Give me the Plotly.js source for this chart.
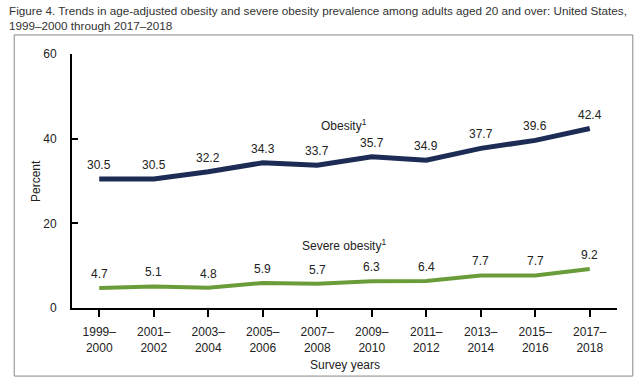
<!DOCTYPE html>
<html>
<head>
<meta charset="utf-8">
<script src="https://cdn.plot.ly/plotly-3.0.1.min.js"></script>
<style>html,body{margin:0;padding:0;background:#fff;}#chart{width:640px;height:381px;}</style>
</head>
<body>
<div id="chart"></div>
<script>
const categories = ["1999–<br>2000","2001–<br>2002","2003–<br>2004","2005–<br>2006","2007–<br>2008","2009–<br>2010","2011–<br>2012","2013–<br>2014","2015–<br>2016","2017–<br>2018"];
const obesity = [30.5, 30.5, 32.2, 34.3, 33.7, 35.7, 34.9, 37.7, 39.6, 42.4];
const severeObesity = [4.7, 5.1, 4.8, 5.9, 5.7, 6.3, 6.4, 7.7, 7.7, 9.2];
const seriesNames = ["Obesity<sup>1</sup>", "Severe obesity<sup>1</sup>"];
const yTicks = [0, 20, 40, 60];
const titleText = "Figure 4. Trends in age-adjusted obesity and severe obesity prevalence among adults aged 20 and over: United States,<br>1999–2000 through 2017–2018";
const xTitle = "Survey years";
const yTitle = "Percent";

const navy = "#1c2c55";
const green = "#6a9d3a";
const font = "Liberation Sans, Arial, sans-serif";

const traces = [
  {x: categories, y: obesity, type: "scatter", mode: "lines", line: {color: navy, width: 5}, hoverinfo: "skip"},
  {x: categories, y: severeObesity, type: "scatter", mode: "lines", line: {color: green, width: 4}, hoverinfo: "skip"}
];

const annotations = [];
[obesity, severeObesity].forEach(series => {
  series.forEach((v, i) => {
    annotations.push({x: categories[i], y: v, text: v.toFixed(1), showarrow: false, yshift: 14,
      font: {family: font, size: 12, color: "#222"}});
  });
});
annotations.push({x: 4.49, y: 43.2, xref: "x", yref: "y", text: seriesNames[0], showarrow: false,
  font: {family: font, size: 12, color: "#222"}});
annotations.push({x: 4.49, y: 14.9, xref: "x", yref: "y", text: seriesNames[1], showarrow: false,
  font: {family: font, size: 12, color: "#222"}});
annotations.push({x: -0.119, y: 1.205, xref: "paper", yref: "paper", xanchor: "left", yanchor: "top", align: "left",
  text: titleText, showarrow: false, font: {family: font, size: 11.7, color: "#333"}});
annotations.push({x: 0.5, y: -0.224, xref: "paper", yref: "paper", xanchor: "center", yanchor: "middle",
  text: xTitle, showarrow: false, font: {family: font, size: 12, color: "#222"}});
annotations.push({x: -0.066, y: 0.5, xref: "paper", yref: "paper", xanchor: "center", yanchor: "middle", textangle: -90,
  text: yTitle, showarrow: false, font: {family: font, size: 12, color: "#222"}});

const layout = {
  width: 640, height: 381,
  margin: {l: 72, r: 23, t: 54, b: 73},
  paper_bgcolor: "#fff", plot_bgcolor: "#fff",
  showlegend: false,
  font: {family: font, size: 12, color: "#222"},
  xaxis: {type: "category", range: [-0.5, 9.5], showgrid: false, zeroline: false,
    showline: true, linecolor: "#000", linewidth: 2, ticks: "outside", ticklen: 7, tickwidth: 2, tickcolor: "#000",
    tickfont: {family: font, size: 12, color: "#222"}, ticklabelstandoff: 5},
  yaxis: {range: [0, 60], tickvals: yTicks, showgrid: false, zeroline: false,
    showline: true, linecolor: "#000", linewidth: 2, ticks: "inside", ticklen: 6, tickwidth: 2, tickcolor: "#000",
    tickfont: {family: font, size: 12, color: "#222"}, ticklabelstandoff: 11},
  annotations: annotations,
  shapes: [{type: "rect", xref: "paper", yref: "paper", x0: -0.106, x1: 1.029, y0: -0.268, y1: 1.075,
    line: {color: "#888", width: 1}, fillcolor: "rgba(0,0,0,0)", layer: "below"}]
};

Plotly.newPlot("chart", traces, layout, {displayModeBar: false, staticPlot: true});
</script>
</body>
</html>
